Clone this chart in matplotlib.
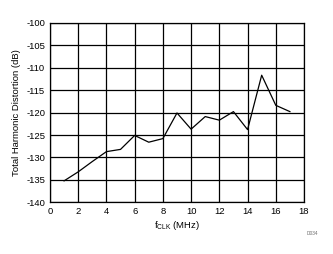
import matplotlib
matplotlib.use("Agg")
import matplotlib.pyplot as plt

plt.rcParams['font.family'] = ['Liberation Sans', 'DejaVu Sans']
plt.rcParams['axes.unicode_minus'] = False

# clock frequency (MHz) and THD (dB)
fclk = [1, 2, 3, 4, 5, 6, 7, 8, 9, 10, 11, 12, 13, 14, 15, 16, 17]
thd = [-135.2, -133.2, -130.9, -128.7, -128.2, -125.1, -126.6, -125.8, -120.1,
       -123.7, -120.9, -121.7, -119.8, -123.8, -111.7, -118.4, -119.8]

xticks = list(range(0, 19, 2))
yticks = list(range(-140, -99, 5))

fig = plt.figure(figsize=(3.33, 2.54), dpi=100)
ax = fig.add_axes([0.150, 0.203, 0.763, 0.708])

ax.plot(fclk, thd, color='black', lw=0.9)
ax.set_xlim(0, 18)
ax.set_ylim(-140, -100)
ax.set_xticks(xticks)
ax.set_yticks(yticks)
ax.grid(True, color='black', lw=0.9)
ax.tick_params(length=0, labelsize=6.8, pad=3.5)
for s in ax.spines.values():
    s.set_color('black')
    s.set_linewidth(0.9)

ax.set_xlabel(r'f$_{\mathregular{CLK}}$ (MHz)', fontsize=6.8, labelpad=2)
ax.set_ylabel('Total Harmonic Distortion (dB)', fontsize=6.8, labelpad=4)
fig.text(0.937, 0.075, 'D034', fontsize=3.5, color='#707070', ha='center')

fig.savefig('out.png', dpi=100)
